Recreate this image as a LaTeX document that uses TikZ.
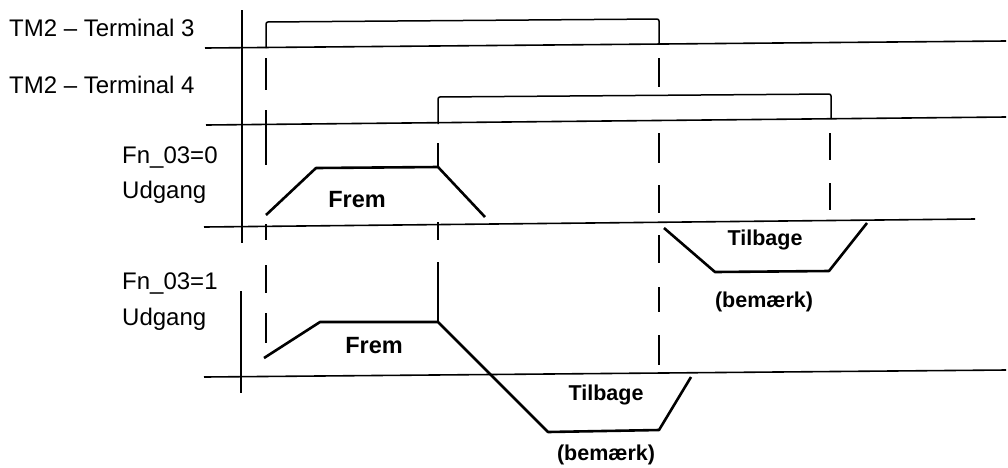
\documentclass[tikz,border=0pt]{standalone}
\usepackage{fontspec}
\setmainfont{Liberation Sans}
\begin{document}
\begin{tikzpicture}[x=1pt,y=-1pt,
  axisline/.style={line width=1.6pt},
  baseline/.style={line width=1.6pt},
  pulse/.style={line width=1.5pt,rounded corners=2pt},
  ramp/.style={line width=2.6pt,line join=round},
  dashmark/.style={line width=1.7pt},
  lab/.style={anchor=base west,inner sep=0pt,font=\fontsize{24}{28}\selectfont},
  blab/.style={anchor=base,inner sep=0pt,font=\fontsize{21.5}{25}\selectfont\bfseries},
  flab/.style={blab,font=\fontsize{23.5}{27}\selectfont\bfseries}]
\useasboundingbox (0,0) rectangle (1008,467);
% axes
\draw[axisline] (242,10) -- (242,243);
\draw[axisline] (241,291) -- (241,393);
% baselines
\draw[baseline] (205,48) -- (1006,41);
\draw[baseline] (206,125) -- (1006,117);
\draw[baseline] (204,227) -- (975,219);
\draw[baseline] (204,377) -- (1006,370);
% pulses
\draw[pulse] (266,48) -- (266,22) -- (659,19) -- (659,44);
\draw[pulse] (438,124) -- (438,97) -- (831,94) -- (831,119);
% ramps
\draw[ramp] (266,215) -- (316,168) -- (438,167) -- (485,217);
\draw[ramp] (664,228) -- (715,272) -- (829,271) -- (867,223);
\draw[ramp] (264,358) -- (320,322) -- (438,322) -- (548,432) -- (659,430) -- (691,377);
% dashed markers
\foreach \a/\b in {58/90,110/165,224/240,265/293,313/343}
  \draw[dashmark] (266,\a) -- (266,\b);
\foreach \a/\b in {143/167,222/240,262/322}
  \draw[dashmark] (438,\a) -- (438,\b);
\foreach \a/\b in {58/87,133/163,185/213,235/263,287/312,335/365}
  \draw[dashmark] (659,\a) -- (659,\b);
\foreach \a/\b in {133/160,183/210}
  \draw[dashmark] (830,\a) -- (830,\b);
% labels
\node[lab] (t3) at (9,36) {TM2 – Terminal 3};
\node[lab] (t4) at (9,93) {TM2 – Terminal 4};
\node[lab] (f0) at (122,163) {Fn\_03=0};
\node[lab] (u0) at (122,198) {Udgang};
\node[lab] (f1) at (122,289) {Fn\_03=1};
\node[lab] (u1) at (122,325) {Udgang};
\node[flab] (fr0) at (357,207) {Frem};
\node[flab] (fr1) at (374,353) {Frem};
\node[blab] (tb0) at (765,245) {Tilbage};
\node[blab] (bm0) at (764,307) {(bemærk)};
\node[blab] (tb1) at (606,400) {Tilbage};
\node[blab] (bm1) at (606,460) {(bemærk)};
\end{tikzpicture}
\end{document}
